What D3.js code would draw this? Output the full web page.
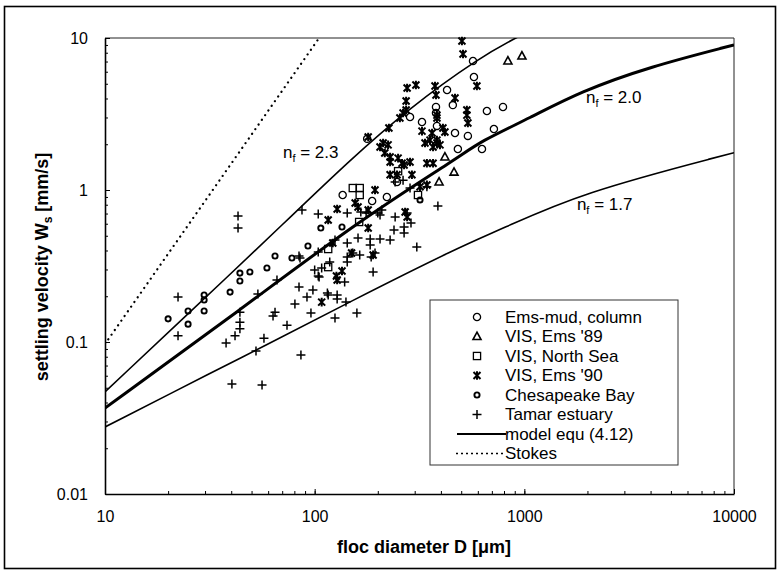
<!DOCTYPE html>
<html>
<head>
<meta charset="utf-8">
<script src="https://cdn.jsdelivr.net/npm/d3@7"></script>
<style>
  body { margin: 0; background: #fff; }
  text { font-family: "Liberation Sans", Arial, Helvetica, sans-serif; fill: #000; }
</style>
</head>
<body>
<svg id="chart" width="779" height="572"></svg>
<script>
// tick labels
var xTickValues = [10, 100, 1000, 10000];
var yTickValues = [0.01, 0.1, 1, 10];

// measured series, [D (um), Ws (mm/s)]
var emsMud = [[569,7.06],[575,5.54],[428,4.55],[456,3.62],[379,3.52],[379,3.21],[285,3.02],[325,2.80],
  [383,2.64],[467,2.37],[538,2.27],[663,3.31],[791,3.52],[716,2.52],[482,1.86],[628,1.86],[178,2.17],
  [247,1.13],[136,0.927],[188,0.847],[221,0.899]];
var ems89 = [[835,7.06],[974,7.61],[418,1.65],[462,1.31],[392,1.13]];
var northSea = [[152,1.03],[164,1.03],[164,0.927],[250,1.33],[311,0.927],[116,0.409],[116,0.311],[163,0.616]];
var ems90 = [[504,9.56],[510,7.85],[276,4.69],[304,4.91],[375,4.83],[379,4.22],[594,4.83],[467,4.03],
  [273,3.85],[273,3.36],[255,2.98],[226,2.56],[180,2.23],[383,3.11],[532,3.36],[532,3.11],[538,2.76],
  [409,2.56],[418,2.41],[205,1.92],[224,1.98],[216,1.75],[229,1.65],[250,1.62],[261,1.50],[229,1.53],
  [285,1.53],[336,2.04],[355,2.13],[383,2.04],[396,1.98],[367,1.92],[343,1.50],[367,1.50],[229,1.26],
  [247,1.26],[291,1.26],[194,1.0],[343,1.08],[116,0.635],[128,0.750],[161,0.773],[156,0.821],[180,0.739],
  [122,0.448],[127,0.272],[135,0.293],[128,0.256],[108,0.183],[150,0.385],[190,0.374],[180,0.562],
  [276,0.664],[270,0.717],[318,1.05],[212,2.04],[267,1.46],[325,2.44],[363,2.37],[383,2.13],[383,2.98],
  [264,3.21]];
var chesapeake = [[20.0,0.142],[24.9,0.160],[24.9,0.131],[29.7,0.204],[29.7,0.189],[29.7,0.160],[39.5,0.213],
  [44.0,0.284],[44.0,0.252],[49.1,0.289],[59.2,0.307],[64.7,0.368],[77.9,0.357],[92.9,0.428],[107,0.562],
  [135,0.571],[318,0.860]];
var tamar = [[22.3,0.198],[22.3,0.110],[43.1,0.674],[43.1,0.562],[53.6,0.207],[44.0,0.157],[44.0,0.135],
  [44.0,0.122],[41.7,0.110],[37.8,0.0985],[66.1,0.256],[57.3,0.106],[52.5,0.0873],[40.3,0.0529],[56.1,0.0521],
  [86,0.0821],[63.3,0.148],[64.7,0.157],[73.8,0.129],[80.5,0.178],[84.2,0.230],[91.9,0.198],[96.0,0.155],
  [98.1,0.220],[116,0.204],[128,0.204],[128,0.192],[125,0.144],[141,0.183],[159,0.155],[85.1,0.357],
  [100,0.298],[105,0.268],[104,0.391],[118,0.336],[139,0.248],[143,0.448],[143,0.362],[143,0.336],
  [125,0.469],[87.0,0.739],[104,0.695],[143,0.706],[84.2,0.368],[115,0.210],[152,0.385],[164,0.374],
  [161,0.483],[184,0.476],[184,0.435],[186,0.362],[194,0.385],[190,0.289],[205,0.476],[229,0.469],
  [239,0.546],[267,0.571],[267,0.521],[288,0.606],[242,0.664],[276,0.706],[307,0.422],[387,0.785],
  [166,0.717],[176,0.706],[200,0.706],[209,0.739],[205,0.685],[264,1.16],[242,1.13],[285,1.03],
  [343,1.05],[104,0.272],[108,0.307]];

// model curves
var model23 = [[10,0.047],[44,0.32],[74,0.635],[147,1.57],[275,3.36],[614,7.5],[950,10.3]];
var model20 = [[10,0.0368],[44,0.162],[164,0.635],[493,1.66],[614,2.08],[1064,2.98],[1842,4.43],[3970,6.48],[10000,9.0]];
var model17 = [[10,0.0276],[35.3,0.0671],[52.9,0.0886],[147,0.184],[493,0.424],[765,0.546],[1842,0.956],[10000,1.76]];
var stokes = [[10,0.097],[105,10]];

var curveLabels = [
  {nf: "2.3", d: 70.6, w: 1.62},
  {nf: "2.0", d: 1967, w: 3.74},
  {nf: "1.7", d: 1781, w: 0.739}
];

var legendNames = ["Ems-mud, column", "VIS, Ems '89", "VIS, North Sea", "VIS, Ems '90",
  "Chesapeake Bay", "Tamar estuary", "model equ (4.12)", "Stokes"];

var svg = d3.select("#chart");
var x = d3.scaleLog().domain([10, 10000]).range([105, 734]);
var y = d3.scaleLog().domain([0.01, 10]).range([494, 38]);

// outer frame
svg.append("rect").attr("x", 4.5).attr("y", 6.5).attr("width", 771).attr("height", 562)
  .attr("fill", "none").attr("stroke", "#000").attr("stroke-width", 1.6);

// plot box top/right
svg.append("path")
  .attr("d", "M" + x(10) + "," + y(10) + "H" + x(10000) + "V" + y(0.01))
  .attr("fill", "none").attr("stroke", "#222").attr("stroke-width", 1);

// minor ticks
svg.append("g").attr("transform", "translate(0," + y(0.01) + ")")
  .call(d3.axisBottom(x).tickValues(x.ticks()).tickSize(-3).tickFormat(""))
  .call(function(g) { g.select(".domain").remove(); });
svg.append("g").attr("transform", "translate(" + x(10) + ",0)")
  .call(d3.axisLeft(y).tickValues(y.ticks()).tickSize(-3).tickFormat(""))
  .call(function(g) { g.select(".domain").remove(); });

// major axes
var xAxis = svg.append("g").attr("transform", "translate(0," + y(0.01) + ")")
  .call(d3.axisBottom(x).tickValues(xTickValues).tickFormat(d3.format("d"))
    .tickSize(-5).tickSizeOuter(0).tickPadding(17));
var yAxis = svg.append("g").attr("transform", "translate(" + x(10) + ",0)")
  .call(d3.axisLeft(y).tickValues(yTickValues).tickFormat(function(d) { return String(d); })
    .tickSize(-5).tickSizeOuter(0).tickPadding(17));
[xAxis, yAxis].forEach(function(a) {
  a.selectAll("text").attr("font-size", 16).attr("font-family", null);
  a.select(".domain").attr("stroke-width", 1.6);
  a.selectAll(".tick line").attr("stroke-width", 1);
});

// axis titles
svg.append("text").attr("x", 424).attr("y", 553).attr("text-anchor", "middle")
  .attr("font-size", 18).attr("font-weight", "bold")
  .html("floc diameter D [&#956;m]");
var yt = svg.append("text").attr("transform", "translate(48,267) rotate(-90)")
  .attr("text-anchor", "middle").attr("font-size", 18).attr("font-weight", "bold");
yt.append("tspan").text("settling velocity W");
yt.append("tspan").attr("font-size", 12).attr("dy", 4).text("s");
yt.append("tspan").attr("dy", -4).text(" [mm/s]");

// curves
svg.append("clipPath").attr("id", "plot").append("rect")
  .attr("x", x(10)).attr("y", y(10)).attr("width", x(10000) - x(10)).attr("height", y(0.01) - y(10));
var line = d3.line().x(function(d) { return x(d[0]); }).y(function(d) { return y(d[1]); })
  .curve(d3.curveBasis);
var curves = svg.append("g").attr("clip-path", "url(#plot)").attr("fill", "none").attr("stroke", "#000");
curves.append("path").datum(stokes).attr("d", line).attr("stroke-width", 2.2)
  .attr("stroke-dasharray", "0.1,5.6").attr("stroke-linecap", "round");
curves.append("path").datum(model23).attr("d", line).attr("stroke-width", 1.6);
curves.append("path").datum(model17).attr("d", line).attr("stroke-width", 1.6);
curves.append("path").datum(model20).attr("d", line).attr("stroke-width", 3);

// curve labels
curveLabels.forEach(function(c) {
  var t = svg.append("text").attr("x", x(c.d)).attr("y", y(c.w)).attr("font-size", 17);
  t.append("tspan").text("n");
  t.append("tspan").attr("font-size", 11).attr("dy", 4).text("f");
  t.append("tspan").attr("dy", -4).text(" = " + c.nf);
});

// markers
function drawMarker(g, type) {
  g.attr("fill", "none").attr("stroke", "#000");
  if (type === "circle") {
    g.append("circle").attr("r", 3.6).attr("stroke-width", 1.3);
  } else if (type === "triangle") {
    g.append("path").attr("d", "M0,-4.3L4,3L-4,3Z").attr("stroke-width", 1.6);
  } else if (type === "square") {
    g.append("rect").attr("x", -3.6).attr("y", -3.6).attr("width", 7.2).attr("height", 7.2).attr("stroke-width", 1.3);
  } else if (type === "star") {
    g.append("path").attr("d", "M-3.5,-3.5L3.5,3.5M-3.5,3.5L3.5,-3.5M0,-4.3V4.3")
      .attr("stroke-width", 2);
  } else if (type === "diamond") {
    g.append("circle").attr("r", 2.6).attr("stroke-width", 1.9);
  } else if (type === "plus") {
    g.append("path").attr("d", "M-4.5,0H4.5M0,-4.5V4.5").attr("stroke-width", 1.5);
  }
}

var series = [
  {data: emsMud, type: "circle"},
  {data: ems89, type: "triangle"},
  {data: northSea, type: "square"},
  {data: ems90, type: "star"},
  {data: chesapeake, type: "diamond"},
  {data: tamar, type: "plus"}
];
series.forEach(function(s) {
  svg.append("g").selectAll("g").data(s.data).enter().append("g")
    .attr("transform", function(d) { return "translate(" + x(d[0]) + "," + y(d[1]) + ")"; })
    .each(function() { drawMarker(d3.select(this), s.type); });
});

// legend
var legend = svg.append("g").attr("transform", "translate(430,300)");
legend.append("rect").attr("width", 248).attr("height", 165)
  .attr("fill", "#fff").attr("stroke", "#333").attr("stroke-width", 1);
legendNames.forEach(function(name, i) {
  var row = legend.append("g").attr("transform", "translate(0," + (17 + i * 19.5) + ")");
  if (i < series.length) {
    drawMarker(row.append("g").attr("transform", "translate(47,0)"), series[i].type);
  } else if (i === 6) {
    row.append("line").attr("x1", 27).attr("x2", 76).attr("stroke", "#000").attr("stroke-width", 1.8);
  } else {
    row.append("line").attr("x1", 26).attr("x2", 76).attr("stroke", "#000").attr("stroke-width", 1.6)
      .attr("stroke-dasharray", "2,3");
  }
  row.append("text").attr("x", 75).attr("dy", "0.35em").attr("font-size", 17).text(name);
});
</script>
</body>
</html>
